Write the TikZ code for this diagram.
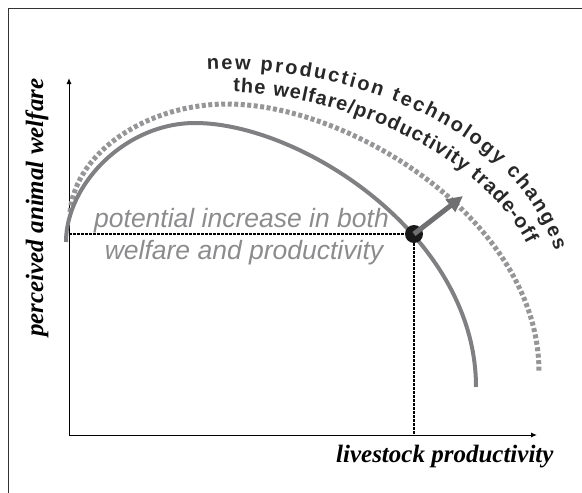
\documentclass[tikz,border=0pt]{standalone}
\usepackage{fontspec}
\usetikzlibrary{decorations.text,arrows.meta}
\newfontfamily\axisfont{Liberation Serif}
\newfontfamily\sansf{Liberation Sans}
\definecolor{curvegray}{RGB}{128,128,130}
\definecolor{dotgray}{RGB}{150,150,152}
\definecolor{textgray}{RGB}{140,140,142}
\definecolor{arrowgray}{RGB}{112,112,114}
\definecolor{darktext}{RGB}{40,40,40}
\tikzset{
  axis/.style={line width=1pt, -{Latex[length=6pt,width=5pt]}},
  guide/.style={line width=1.1pt, dash pattern=on 2.5pt off 1.5pt},
  frontier/.style={line width=4pt, curvegray},
  newfrontier/.style={line width=5pt, dotgray, dash pattern=on 4pt off 2.5pt},
  axislabel/.style={font=\axisfont\bfseries\itshape\fontsize{25}{30}\selectfont},
  graylabel/.style={font=\sansf\itshape\fontsize{26.5}{32}\selectfont, text=textgray, inner sep=0pt},
  pointdot/.style={circle, fill=black!90, minimum size=18pt, inner sep=0pt},
  shiftarrow/.style={line width=5pt, arrowgray, -{Triangle[length=16pt,width=15pt]}},
  arctext/.style={decorate, decoration={text along path, text align=fit to path, text color=darktext}}
}
\begin{document}
\begin{tikzpicture}[x=1pt,y=-1pt]
\useasboundingbox (0,0) rectangle (582,493);
% frame
\draw[line width=1pt, black!80] (8,493) -- (8,8) -- (582,8);
% axes
\coordinate (O) at (69,435);
\coordinate (ytip) at (69,78);
\coordinate (xtip) at (537,435);
\draw[axis] (O) -- (ytip);
\draw[axis] (O) -- (xtip);
% curves
\draw[newfrontier] (70,212) .. controls (76,150) and (150,104) .. (227,104)
   .. controls (350,104) and (539,220) .. (539,372);
\draw[frontier] (66,242) .. controls (66,185) and (125,123) .. (195,123)
   .. controls (300,123) and (476,235) .. (476,387);
% point and guides
\node[pointdot] (P) at (414,234) {};
\draw[guide] (O |- P) -- (P);
\draw[guide] (P) -- (P |- O);
\coordinate (atip) at (463,196);
\draw[shiftarrow] (P.center) -- (atip);
% labels
\node[axislabel, anchor=base east] (xl) at (557,462) {livestock productivity};
\node[axislabel, rotate=90, anchor=base east] (yl) at (43,75) {perceived animal welfare};
\node[graylabel, anchor=base] (g1) at (241.5,227) {potential increase in both};
\node[graylabel, anchor=base] (g2) at (244,259) {welfare and productivity};
% curved texts
\path[arctext, decoration={text={|\sansf\bfseries\fontsize{20}{20}\selectfont|new production technology changes}}]
  (207,70) .. controls (331,64) and (510,117) .. (555,251);
\path[arctext, decoration={text={|\sansf\bfseries\fontsize{20}{20}\selectfont|the welfare/productivity trade-off}}]
  (233,92) .. controls (340,95) and (478,150) .. (527,244);
\end{tikzpicture}
\end{document}
